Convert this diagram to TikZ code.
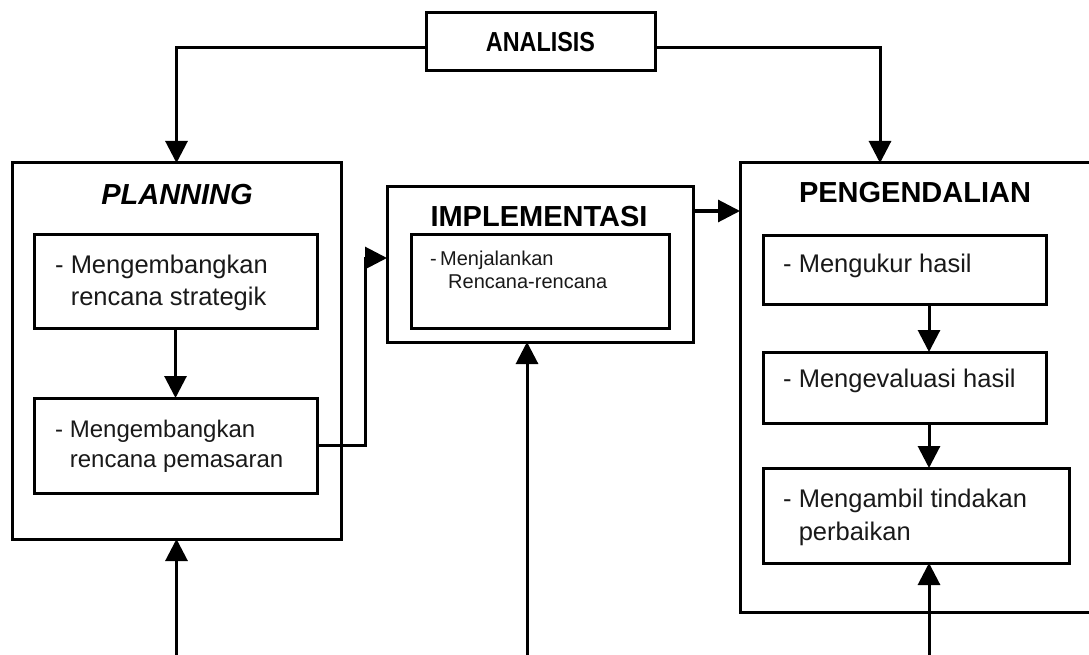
\documentclass[tikz,border=0pt]{standalone}
\usepackage{fontspec}
\setmainfont{Liberation Sans}
\newfontfamily\condbold[FakeStretch=0.85]{Liberation Sans Bold}
\usetikzlibrary{arrows.meta}
\begin{document}
\begin{tikzpicture}[x=1pt,y=-1pt,
  box/.style={draw=black, line width=3pt, rectangle, inner sep=0pt, outer sep=0pt, anchor=north west},
  conn/.style={draw=black, line width=3pt, -{Triangle[length=22pt,width=22pt]}},
  title/.style={font=\bfseries\fontsize{29}{29}\selectfont, text=black, inner sep=0pt},
  body/.style={align=left, anchor=north west, inner sep=0pt, text=black!90}
]
\useasboundingbox[fill=white] (0,0) rectangle (1089,655);

% ANALISIS
\node[box, minimum width=229pt, minimum height=58pt,
      font=\condbold\fontsize{27.5}{28}\selectfont] (analisis) at (426,13) {ANALISIS};

% PLANNING
\node[box, minimum width=329pt, minimum height=376pt] (planning) at (12,163) {};
\node[title, font=\bfseries\itshape\fontsize{29}{29}\selectfont] (planningT) at (177,195) {PLANNING};
\node[box, minimum width=283pt, minimum height=94pt] (p1) at (34,234) {};
\node[body, font=\fontsize{25.5}{32}\selectfont] (p1T) at (55,254.5)
  {- Mengembangkan\\\phantom{- }rencana strategik};
\node[box, minimum width=283pt, minimum height=95pt] (p2) at (34,398) {};
\node[body, font=\fontsize{24}{30}\selectfont] (p2T) at (55,419.5)
  {- Mengembangkan\\\phantom{- }rencana pemasaran};

% IMPLEMENTASI
\node[box, minimum width=306pt, minimum height=155pt] (impl) at (387,187) {};
\node[title] (implT) at (539,217) {IMPLEMENTASI};
\node[box, minimum width=258pt, minimum height=94pt] (impli) at (411,234) {};
\node[body, font=\fontsize{20}{23}\selectfont] (impliT) at (430,250.5)
  {-\,Menjalankan\\\phantom{-\,}\hspace{8pt}Rencana-rencana};

% PENGENDALIAN
\node[box, minimum width=360pt, minimum height=449pt] (peng) at (740,163) {};
\node[title] (pengT) at (915,193) {PENGENDALIAN};
\node[box, minimum width=283pt, minimum height=69pt] (ga) at (763,235) {};
\node[body, font=\fontsize{25.5}{32}\selectfont] (gaT) at (783,253.5) {- Mengukur hasil};
\node[box, minimum width=283pt, minimum height=71pt] (gb) at (763,352) {};
\node[body, font=\fontsize{25.5}{32}\selectfont] (gbT) at (783,368.5) {- Mengevaluasi hasil};
\node[box, minimum width=306pt, minimum height=95pt] (gc) at (763,468) {};
\node[body, font=\fontsize{25.5}{33}\selectfont] (gcT) at (783,488.5)
  {- Mengambil tindakan\\\phantom{- }perbaikan};

% connectors
\coordinate (aw) at ([yshift=-5.5pt]analisis.west);
\coordinate (ae) at ([yshift=-5.5pt]analisis.east);
\draw[conn] (aw) -| (planning.north);
\coordinate (pengIn) at ([xshift=140pt]peng.north west);
\draw[conn] (ae) -| (pengIn);
\draw[conn] (p1.south) -- (p2.north);
\coordinate (implBend) at (365,258);
\draw[conn] (p2.east) -| (implBend) -- (implBend -| impl.west);
\coordinate (ip) at (impl.east |- 0,211);
\draw[conn] (ip) -- (ip -| peng.west);
\coordinate (gx) at (929,0);
\draw[conn] (gx |- ga.south) -- (gx |- gb.north);
\draw[conn] (gx |- gb.south) -- (gx |- gc.north);

% bottom feedback lines
\coordinate (b1) at (176.5,656);
\coordinate (b2) at (527,656);
\coordinate (b3) at (929,656);
\draw[conn] (b1) -- (b1 |- planning.south);
\draw[conn] (b2) -- (b2 |- impl.south);
\draw[conn] (b3) -- (b3 |- gc.south);
\end{tikzpicture}
\end{document}
